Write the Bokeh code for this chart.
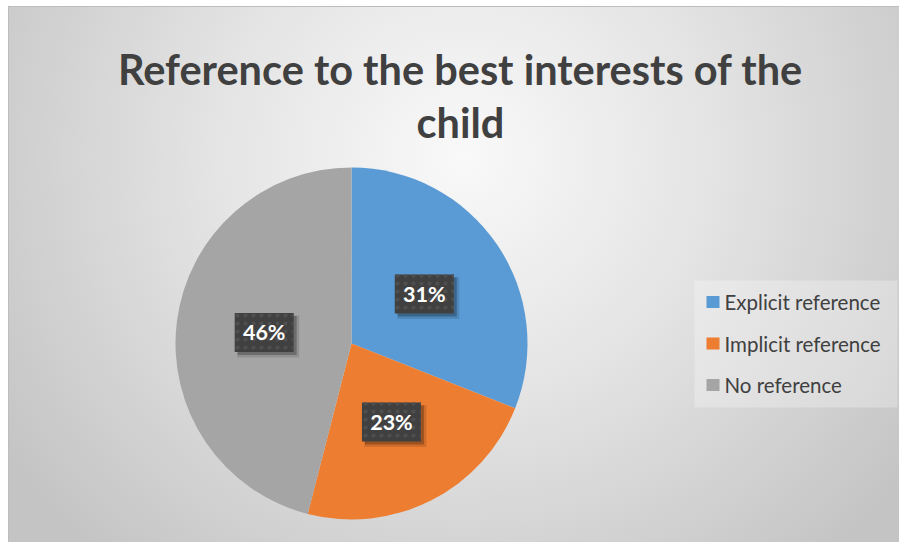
import math
from bokeh.plotting import figure
from bokeh.models import Range1d, ColumnDataSource
from bokeh.core.properties import value
from bokeh.embed import file_html
from bokeh.resources import INLINE

# ---- data ----
categories = ["Explicit reference", "Implicit reference", "No reference"]
shares = [31, 23, 46]          # percent
colors = ["#5B9BD5", "#ED7D31", "#A5A5A5"]
title_lines = ["Reference to the best interests of the", "child"]

# ---- layout (page pixel coordinates, y measured downward) ----
W, H = 891, 536
OX, OY = 9, 7            # where the plot content starts on the page
CX, CY, R = 351, 343, 176
LABEL_FRAC = 0.5
FONT = "Lato"
TEXT_COLOR = "#404040"

p = figure(width=W, height=H, output_backend="svg", toolbar_location=None,
           x_range=Range1d(OX, OX + W), y_range=Range1d(-(OY + H), -OY),
           x_axis_type=None, y_axis_type=None, min_border=0,
           background_fill_alpha=0, border_fill_alpha=0, outline_line_color=None)
p.grid.visible = False
p.styles = {
    "margin-left": "8px",
    "margin-top": "6px",
    "background-image": "radial-gradient(ellipse 62% 100% at 51% 28%, #f9f9f9 0%, #e4e4e4 45%, #c4c4c4 100%)",
    "border-left": "1px solid #bdbdbd",
    "border-top": "1px solid #bdbdbd",
}

# ---- pie ----
total = sum(shares)
starts, ends, mids = [], [], []
acc = 0.0
for v in shares:
    a0 = math.pi / 2 - 2 * math.pi * acc / total
    acc += v
    a1 = math.pi / 2 - 2 * math.pi * acc / total
    starts.append(a0)
    ends.append(a1)
    mids.append((a0 + a1) / 2)

src = ColumnDataSource(dict(start=starts, end=ends, color=colors, cat=categories))
p.wedge(x=CX, y=-CY, radius=R, start_angle="start", end_angle="end",
        direction="clock", fill_color="color", line_color=None, source=src)

# ---- data labels ----
lx = [CX + LABEL_FRAC * R * math.cos(m) for m in mids]
ly = [-CY + LABEL_FRAC * R * math.sin(m) for m in mids]
labels = [f"{v}%" for v in shares]
lsrc = ColumnDataSource(dict(x=lx, y=ly, t=labels,
                             sx=[x + 4 for x in lx], sy=[y - 4 for y in ly],
                             sx2=[x + 3 for x in lx], sy2=[y - 3 for y in ly]))
p.rect(x="sx", y="sy", width=62, height=42, fill_color="black", fill_alpha=0.12,
       line_color=None, source=lsrc)
p.rect(x="sx2", y="sy2", width=59, height=39, fill_color="black", fill_alpha=0.25,
       line_color=None, source=lsrc)
p.rect(x="x", y="y", width=59, height=39, fill_color="#404040", line_color=None,
       hatch_pattern="dot", hatch_color="#4f4f4f", hatch_scale=8, hatch_weight=2,
       source=lsrc)
p.text(x="x", y="y", text="t", text_align="center", text_baseline="middle",
       text_font=value(FONT), text_font_style="bold", text_font_size="21.5px",
       text_color="white", source=lsrc)

# ---- title ----
p.text(x=[460, 460], y=[-68, -121], text=title_lines, text_align="center",
       text_baseline="alphabetic", text_font=value(FONT), text_font_style="bold",
       text_font_size="41.5px", text_color=TEXT_COLOR)

# ---- legend ----
LEG_X0, LEG_X1, LEG_Y0, LEG_Y1 = 694, 897, 280, 407
p.quad(left=LEG_X0, right=LEG_X1, top=-LEG_Y0, bottom=-LEG_Y1,
       fill_color="white", fill_alpha=0.28, line_color=None)
row_y = [-(301.5 + 41.5 * i) for i in range(len(categories))]
p.rect(x=[712.5] * len(categories), y=row_y, width=13, height=12,
       fill_color=colors, line_color=None)
p.text(x=[724] * len(categories), y=row_y, text=categories, text_align="left",
       text_baseline="middle", text_font=value(FONT), text_font_size="20.5px",
       text_color=TEXT_COLOR)

open("out.html", "w").write(file_html(p, INLINE))
